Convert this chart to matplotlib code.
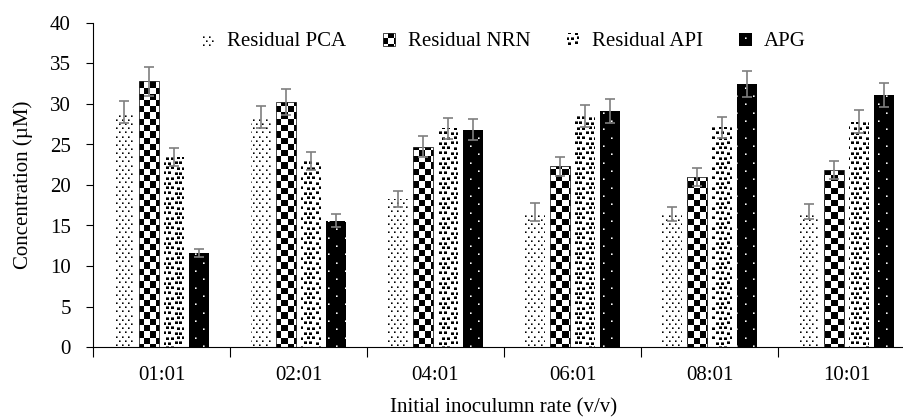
import numpy as np
import matplotlib
matplotlib.use("Agg")
import matplotlib.pyplot as plt
import matplotlib.hatch as mhatch
from matplotlib.path import Path

# ---------------- data ----------------
categories = ['01:01', '02:01', '04:01', '06:01', '08:01', '10:01']
series_names = ['Residual PCA', 'Residual NRN', 'Residual API', 'APG']
pca = [29.0, 28.4, 18.3, 16.7, 16.4, 16.7]
pca_err = [1.4, 1.4, 1.0, 1.1, 0.9, 0.9]
nrn = [32.8, 30.2, 24.7, 22.3, 21.0, 21.9]
nrn_err = [1.8, 1.6, 1.3, 1.2, 1.1, 1.1]
api = [23.5, 23.0, 27.0, 28.5, 27.1, 27.8]
api_err = [1.1, 1.1, 1.3, 1.4, 1.3, 1.4]
apg = [11.6, 15.6, 26.8, 29.1, 32.5, 31.1]
apg_err = [0.5, 0.8, 1.3, 1.5, 1.6, 1.5]
yticks = [0, 5, 10, 15, 20, 25, 30, 35, 40]

# ---------------- texture patterns (custom hatches, 100 px tile) ----------------
TILE = 100.0


def _dots():
    rects = []
    ncol, nrow = 16, 24
    for r in range(nrow):
        y = round(r * TILE / nrow)
        for c in range(ncol):
            x = round((c + 0.5 * (r % 2)) * TILE / ncol)
            rects.append((x, y, 1.6, 1.6))
    return rects


def _checker():
    rects = []
    n = 16
    for r in range(n):
        for c in range(n):
            if (r + c) % 2 == 0:
                x0 = round(c * TILE / n)
                x1 = round((c + 1) * TILE / n)
                y0 = round(r * TILE / n)
                y1 = round((r + 1) * TILE / n)
                rects.append((x0, y0, x1 - x0, y1 - y0))
    return rects


def _confetti():
    rects = []
    nrow, ncol = 20, 17
    jit = [(0, 0), (1, 1), (0, 1), (1, 0)]
    for r in range(nrow):
        y = round(r * TILE / nrow)
        for c in range(ncol):
            x = round((c + 0.5 * (r % 2)) * TILE / ncol)
            dx, dy = jit[(r * 3 + c) % 4]
            rects.append((x + dx, y + dy, 3, 2.6))
    return rects


def _white_dots():
    rects = []
    n = 12
    for r in range(n):
        for c in range(n):
            if (r + c) % 2 == 0:
                x = round(c * TILE / n) + 3
                y = round(r * TILE / n) + 3
                rects.append((x, y, 1.6, 1.6))
    return rects


TEXTURES = {'.': _dots(), '+': _checker(), 'x': _confetti(), 'o': _white_dots()}


class TexturePattern(mhatch.HatchPatternBase):
    def __init__(self, hatch, density):
        self.rects = TEXTURES.get(hatch, [])
        self.num_vertices = 5 * len(self.rects)

    def set_vertices_and_codes(self, vertices, codes):
        for k, (x, y, w, h) in enumerate(self.rects):
            x0, y0, x1, y1 = x / TILE, y / TILE, (x + w) / TILE, (y + h) / TILE
            vertices[5 * k:5 * k + 5] = [(x0, y0), (x1, y0), (x1, y1), (x0, y1), (x0, y0)]
            codes[5 * k:5 * k + 5] = [Path.MOVETO, Path.LINETO, Path.LINETO,
                                      Path.LINETO, Path.CLOSEPOLY]


mhatch._hatch_types[:] = [TexturePattern]

# ---------------- figure ----------------
plt.rcParams['font.family'] = ['Liberation Serif', 'DejaVu Serif']
plt.rcParams['hatch.linewidth'] = 0.0
plt.rcParams['font.size'] = 15

fig = plt.figure(figsize=(9.04, 4.19), dpi=100)
ax = fig.add_axes([93 / 904, 72 / 419, 822 / 904, 324 / 419])

x = np.arange(len(categories))
width = 0.146
step = 0.1825
styles = [
    dict(facecolor='white', edgecolor='black', linewidth=0, hatch='.'),
    dict(facecolor='white', edgecolor='black', linewidth=0.5, hatch='+'),
    dict(facecolor='white', edgecolor='black', linewidth=0, hatch='x'),
    dict(facecolor='black', edgecolor='white', linewidth=0, hatch='o'),
]
data = [pca, nrn, api, apg]
errs = [pca_err, nrn_err, api_err, apg_err]
handles = []
for i, (vals, err, st, name) in enumerate(zip(data, errs, styles, series_names)):
    pos = x + (i - 1.5) * step
    b = ax.bar(pos, vals, width, label=name, zorder=2, **st)
    handles.append(b)
    ax.errorbar(pos, vals, yerr=err, fmt='none', ecolor='#7f7f7f',
                elinewidth=1.2, capsize=3.6, capthick=1.2, zorder=3)

ax.set_ylim(0, 40)
ax.set_yticks(yticks)
ax.set_xlim(-0.5, 5.5)
ax.set_xticks(np.arange(-0.5, 6.0, 1.0))
ax.set_xticklabels([])
ax.set_xticks(x, minor=True)
ax.set_xticklabels(categories, minor=True)
ax.tick_params(axis='x', which='major', length=7, width=0.8, direction='out')
ax.tick_params(axis='x', which='minor', length=0, pad=14)
ax.tick_params(axis='y', length=5, width=0.8, direction='out', pad=11)
for s in ['top', 'right']:
    ax.spines[s].set_visible(False)
for s in ['left', 'bottom']:
    ax.spines[s].set_linewidth(0.8)

ax.set_ylabel('Concentration (µM)', labelpad=12)
ax.set_xlabel('Initial inoculumn rate (v/v)')
ax.xaxis.set_label_coords((504 - 93) / 822, -(398 - 347) / 324)

ax.legend(handles=handles, labels=series_names, loc='center',
          bbox_to_anchor=(0.5, 1 - 19 / 324), ncol=4, frameon=False,
          handlelength=0.6, handleheight=0.6, handletextpad=0.6,
          columnspacing=1.75, fontsize=15, borderpad=0)

fig.savefig('out.png', dpi=100)
